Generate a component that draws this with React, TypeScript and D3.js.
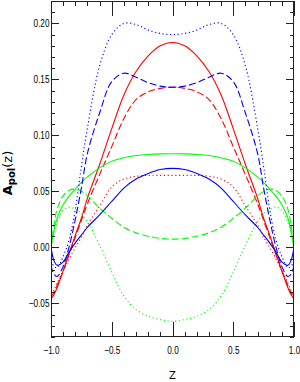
import { useEffect, useRef } from "react";
import {
	scaleLinear,
	line,
	curveCatmullRom,
	axisBottom,
	axisTop,
	axisLeft,
	axisRight,
	format,
	range,
	select,
} from "d3";

// z grid the curves were read on
let zValues = [
	-1, -0.975, -0.95, -0.9, -0.85, -0.8, -0.75, -0.7, -0.6, -0.5, -0.4, -0.3, -0.2, -0.1, 0,
	0.1, 0.2, 0.3, 0.4, 0.5, 0.6, 0.7, 0.75, 0.8, 0.85, 0.9, 0.95, 0.975, 1,
];

let redSolid = [
	-0.046, -0.042, -0.036, -0.021, -0.005, 0.011, 0.026, 0.044, 0.074, 0.106, 0.136, 0.157, 0.171, 0.18, 0.183,
	0.18, 0.171, 0.157, 0.136, 0.106, 0.074, 0.044, 0.026, 0.011, -0.005, -0.021, -0.036, -0.042, -0.046,
];
let redDashed = [
	-0.044, -0.04, -0.034, -0.021, -0.006, 0.009, 0.024, 0.039, 0.065, 0.09, 0.115, 0.132, 0.139, 0.142, 0.143,
	0.142, 0.139, 0.132, 0.115, 0.09, 0.065, 0.039, 0.024, 0.009, -0.006, -0.021, -0.034, -0.04, -0.044,
];
let redDotted = [
	-0.042, -0.038, -0.032, -0.021, -0.01, 0.0, 0.009, 0.02, 0.037, 0.054, 0.061, 0.0635, 0.0643, 0.0643, 0.0643,
	0.0643, 0.0643, 0.0635, 0.061, 0.054, 0.037, 0.02, 0.009, 0.0, -0.01, -0.021, -0.032, -0.038, -0.042,
];
let blueSolid = [
	0.0, -0.012, -0.016, -0.013, -0.004, 0.004, 0.011, 0.018, 0.029, 0.041, 0.053, 0.061, 0.066, 0.0695, 0.0706,
	0.0695, 0.066, 0.061, 0.053, 0.041, 0.029, 0.018, 0.011, 0.004, -0.004, -0.013, -0.016, -0.012, 0.0,
];
let blueDashed = [
	-0.016, -0.024, -0.026, -0.017, 0.001, 0.025, 0.053, 0.084, 0.12, 0.148, 0.1555, 0.152, 0.147, 0.144, 0.143,
	0.144, 0.147, 0.152, 0.1555, 0.148, 0.12, 0.084, 0.053, 0.025, 0.001, -0.017, -0.026, -0.024, -0.016,
];
let blueDotted = [
	-0.012, -0.017, -0.018, -0.008, 0.007, 0.034, 0.072, 0.107, 0.162, 0.19, 0.2, 0.199, 0.194, 0.191, 0.19,
	0.191, 0.194, 0.199, 0.2, 0.19, 0.162, 0.107, 0.072, 0.034, 0.007, -0.008, -0.018, -0.017, -0.012,
];
let greenSolid = [
	0.0, 0.015, 0.026, 0.038, 0.046, 0.052, 0.058, 0.063, 0.071, 0.077, 0.08, 0.082, 0.083, 0.0835, 0.0836,
	0.0835, 0.083, 0.082, 0.08, 0.077, 0.071, 0.063, 0.058, 0.052, 0.046, 0.038, 0.026, 0.015, 0.0,
];
let greenDashed = [
	0.0, 0.02, 0.034, 0.046, 0.051, 0.052, 0.05, 0.046, 0.035, 0.026, 0.018, 0.013, 0.01, 0.008, 0.0074,
	0.008, 0.01, 0.013, 0.018, 0.026, 0.035, 0.046, 0.05, 0.052, 0.051, 0.046, 0.034, 0.02, 0.0,
];
let greenDotted = [
	0.0, 0.013, 0.022, 0.033, 0.036, 0.034, 0.03, 0.023, 0.002, -0.022, -0.0435, -0.0555, -0.0615, -0.0645, -0.066,
	-0.0645, -0.0615, -0.0555, -0.0435, -0.022, 0.002, 0.023, 0.03, 0.034, 0.036, 0.033, 0.022, 0.013, 0.0,
];

let xMajorTicks = [-1, -0.5, 0, 0.5, 1];
let yMajorTicks = [-0.05, 0, 0.05, 0.1, 0.15, 0.2];

let width = 300;
let height = 382;
let margin = { top: 1, right: 6, bottom: 45, left: 51 };

let dashStyles = { solid: null, dashed: "7 3", dotted: "1.2 2.6" };

let series = [
	{ name: "redSolid", values: redSolid, color: "#ff0000", style: "solid" },
	{ name: "redDashed", values: redDashed, color: "#ff0000", style: "dashed" },
	{ name: "redDotted", values: redDotted, color: "#ff0000", style: "dotted" },
	{ name: "greenSolid", values: greenSolid, color: "#00ff00", style: "solid" },
	{ name: "greenDashed", values: greenDashed, color: "#00ff00", style: "dashed" },
	{ name: "greenDotted", values: greenDotted, color: "#00ff00", style: "dotted" },
	{ name: "blueSolid", values: blueSolid, color: "#0000ff", style: "solid" },
	{ name: "blueDashed", values: blueDashed, color: "#0000ff", style: "dashed" },
	{ name: "blueDotted", values: blueDotted, color: "#0000ff", style: "dotted" },
];

let labelFont = "'Liberation Sans', Arial, sans-serif";

let Axes = ({ xScale, yScale, innerWidth, innerHeight }) => {
	let ref = useRef(null);
	useEffect(() => {
		let g = select(ref.current);
		g.selectAll("*").remove();
		let xMinor = range(-10, 11).map((d) => d / 10);
		let yMinor = range(-8, 23).map((d) => d / 100);

		let add = (axis, transform) => {
			let a = g.append("g").attr("transform", transform).call(axis);
			a.select(".domain").remove();
			a.selectAll("line").attr("stroke", "#222").attr("shape-rendering", "crispEdges");
			return a;
		};

		let bottom = add(
			axisBottom(xScale).tickValues(xMajorTicks).tickSize(-15).tickPadding(10).tickFormat(format(".1f")),
			`translate(0,${innerHeight})`
		);
		// condensed look of the original tick labels
		bottom
			.selectAll("text")
			.attr("font-size", 10.5)
			.attr("font-family", labelFont)
			.attr("fill", "#000")
			.attr("transform", "scale(0.78,1)");
		add(axisBottom(xScale).tickValues(xMinor).tickSize(-5).tickFormat(() => ""), `translate(0,${innerHeight})`);
		add(axisTop(xScale).tickValues(xMajorTicks).tickSize(-15).tickFormat(() => ""), "translate(0,0)");
		add(axisTop(xScale).tickValues(xMinor).tickSize(-5).tickFormat(() => ""), "translate(0,0)");

		let left = add(
			axisLeft(yScale).tickValues(yMajorTicks).tickSize(-8).tickPadding(2).tickFormat(format(".2f")),
			"translate(0,0)"
		);
		left
			.selectAll("text")
			.attr("font-size", 10.5)
			.attr("font-family", labelFont)
			.attr("fill", "#000")
			.attr("transform", "scale(0.78,1)");
		add(axisLeft(yScale).tickValues(yMinor).tickSize(-4).tickFormat(() => ""), "translate(0,0)");
		add(axisRight(yScale).tickValues(yMajorTicks).tickSize(-8).tickFormat(() => ""), `translate(${innerWidth},0)`);
		add(axisRight(yScale).tickValues(yMinor).tickSize(-4).tickFormat(() => ""), `translate(${innerWidth},0)`);
	}, []);
	return <g ref={ref}></g>;
};

export default function App() {
	let innerWidth = width - margin.left - margin.right;
	let innerHeight = height - margin.top - margin.bottom;

	let xScale = scaleLinear().domain([-1, 1]).range([0, innerWidth]);
	let yScale = scaleLinear().domain([-0.08, 0.22]).range([innerHeight, 0]);

	let lineGenerator = line()
		.x((d) => xScale(d[0]))
		.y((d) => yScale(d[1]))
		.curve(curveCatmullRom.alpha(0.5));

	return (
		<svg
			width={width}
			height={height}
			style={{ position: "absolute", left: 0, top: 0, background: "#fff" }}
		>
			<defs>
				<clipPath id="plotClip">
					<rect x={0} y={0} width={innerWidth} height={innerHeight} />
				</clipPath>
			</defs>
			<g transform={`translate(${margin.left},${margin.top})`}>
				<g clipPath="url(#plotClip)">
					{series.map((s) => (
						<path
							key={s.name}
							d={lineGenerator(zValues.map((z, i) => [z, s.values[i]]))}
							fill="none"
							stroke={s.color}
							strokeWidth={1.1}
							strokeDasharray={dashStyles[s.style] || undefined}
						/>
					))}
				</g>
				<Axes xScale={xScale} yScale={yScale} innerWidth={innerWidth} innerHeight={innerHeight} />
				<rect
					x={0.5}
					y={0.5}
					width={innerWidth - 1}
					height={innerHeight - 1}
					fill="none"
					stroke="#222"
					strokeWidth={1}
				/>
			</g>
			<text
				transform={`translate(12,${margin.top + 172}) rotate(-90)`}
				textAnchor="middle"
				fontFamily="'DejaVu Sans', sans-serif"
				fontWeight="bold"
				fontSize={13}
			>
				A
				<tspan fontSize={10} dy={3}>pol</tspan>
				<tspan dy={-3} fontWeight="normal">(z)</tspan>
			</text>
			<text
				x={margin.left + innerWidth / 2}
				y={379}
				textAnchor="middle"
				fontFamily="'DejaVu Sans', sans-serif"
				fontSize={10}
			>
				Z
			</text>
		</svg>
	);
}
